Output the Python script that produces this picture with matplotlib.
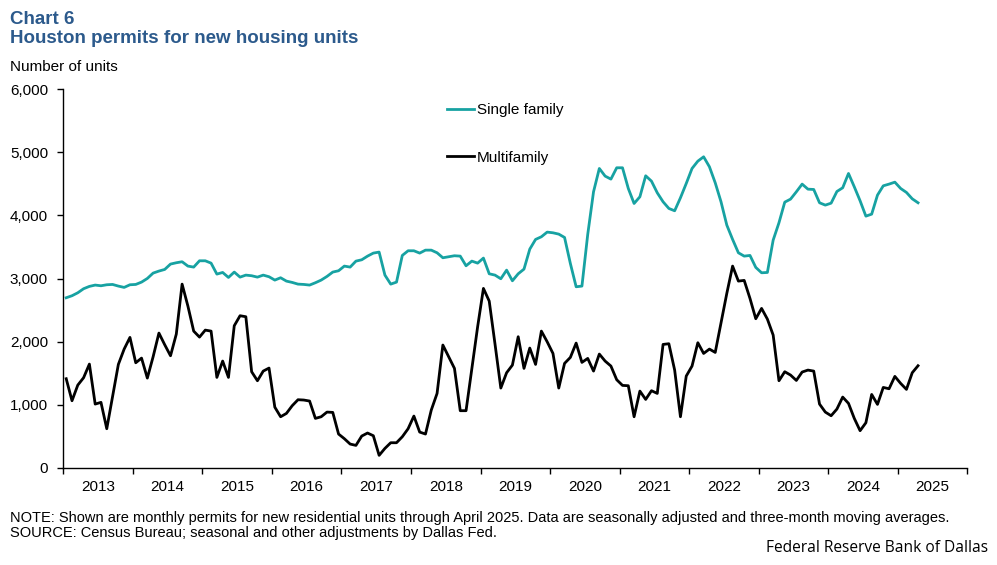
import numpy as np
import matplotlib
matplotlib.use("Agg")
import matplotlib.pyplot as plt
from matplotlib.ticker import FuncFormatter, FixedLocator

plt.rcParams['font.family'] = ['Liberation Sans', 'DejaVu Sans']

# monthly, Jan 2013 - Apr 2025 (three-month moving averages)
years = list(range(2013, 2026))

single_family = [
    2695, 2727, 2774, 2838, 2875, 2896, 2885, 2901, 2906, 2880, 2859, 2901,
    2906, 2943, 3001, 3086, 3118, 3144, 3229, 3250, 3266, 3197, 3181, 3281,
    3281, 3244, 3070, 3096, 3017, 3102, 3022, 3054, 3044, 3022, 3054, 3028,
    2975, 3012, 2959, 2938, 2911, 2906, 2896, 2933, 2975, 3033, 3102, 3123,
    3197, 3181, 3276, 3297, 3355, 3403, 3419, 3054, 2911, 2943, 3366, 3440,
    3440, 3403, 3450, 3450, 3408, 3329, 3345, 3361, 3355, 3202, 3276, 3244,
    3324, 3075, 3054, 2996, 3133, 2964, 3075, 3149, 3466, 3620, 3662, 3736,
    3725, 3704, 3651, 3239, 2869, 2880, 3700, 4375, 4745, 4624, 4576, 4756,
    4756, 4428, 4190, 4296, 4629, 4544, 4359, 4217, 4111, 4074, 4280, 4507,
    4745, 4861, 4930, 4772, 4518, 4217, 3847, 3620, 3408, 3355, 3366, 3176,
    3091, 3096, 3609, 3884, 4211, 4259, 4375, 4497, 4417, 4412, 4201, 4164,
    4195, 4380, 4439, 4666, 4454, 4233, 3989, 4021, 4322, 4470, 4497, 4528,
    4428, 4365, 4264, 4201,
]

multifamily = [
    1411, 1062, 1310, 1427, 1643, 1009, 1036, 618, 1125, 1638, 1881, 2066,
    1664, 1738, 1421, 1760, 2135, 1950, 1775, 2119, 2911, 2563, 2166, 2071,
    2182, 2166, 1432, 1691, 1432, 2251, 2410, 2394, 1522, 1379, 1532, 1580,
    960, 808, 861, 983, 1078, 1073, 1057, 782, 808, 882, 877, 534,
    460, 375, 354, 502, 550, 507, 196, 306, 396, 396, 491, 618,
    819, 565, 534, 914, 1178, 1945, 1760, 1575, 904, 904, 1575, 2235,
    2843, 2642, 1960, 1263, 1506, 1627, 2077, 1575, 1897, 1638, 2166, 1997,
    1812, 1263, 1654, 1749, 1976, 1670, 1733, 1532, 1802, 1691, 1612, 1395,
    1305, 1300, 808, 1215, 1083, 1221, 1178, 1955, 1966, 1548, 808, 1453,
    1612, 1982, 1812, 1881, 1828, 2299, 2764, 3197, 2959, 2970, 2684, 2362,
    2526, 2357, 2103, 1379, 1522, 1469, 1384, 1517, 1548, 1532, 1009, 882,
    824, 930, 1120, 1020, 782, 587, 713, 1162, 1004, 1273, 1252, 1448,
    1337, 1242, 1506, 1617,
]

teal = "#17a2a2"
navy = "#2c5a8c"

fig = plt.figure(figsize=(9.97, 5.65), dpi=100)
ax = fig.add_axes([0.0635, 0.1722, 0.9067, 0.6697])

pos = np.arange(len(single_family)) + 0.5
ax.plot(pos, single_family, color=teal, lw=2, label="Single family")
ax.plot(pos, multifamily, color="black", lw=2, label="Multifamily")

n_years = len(years)
ax.set_xlim(0, 12 * n_years)
ax.set_ylim(0, 6000)
ax.set_yticks(range(0, 6001, 1000))
ax.yaxis.set_major_formatter(FuncFormatter(lambda v, p: f"{int(v):,}"))

# year boundaries as ticks, year labels centred between them
ax.xaxis.set_major_locator(FixedLocator([12 * k for k in range(n_years + 1)]))
ax.xaxis.set_minor_locator(FixedLocator([12 * k + 6 for k in range(n_years)]))
ax.set_xticklabels([])
ax.set_xticklabels([str(y) for y in years], minor=True)
ax.tick_params(axis='x', which='major', direction='out', length=4, width=1)
ax.tick_params(axis='x', which='minor', length=0, pad=9, labelsize=11)
ax.tick_params(axis='y', direction='out', length=4, width=1, pad=7, labelsize=11)

for s in ['top', 'right']:
    ax.spines[s].set_visible(False)
for s in ['left', 'bottom']:
    ax.spines[s].set_linewidth(1)

ax.legend(loc='upper left', bbox_to_anchor=(0.409, 1.0), frameon=False,
          fontsize=11, handlelength=1.75, handletextpad=0.2, labelspacing=2.2)

fig.text(0.010, 1 - 24 / 565, "Chart 6", fontsize=13.5, fontweight='bold',
         color=navy, va='baseline')
fig.text(0.010, 1 - 43 / 565, "Houston permits for new housing units",
         fontsize=13.5, fontweight='bold', color=navy, va='baseline')
fig.text(0.010, 1 - 71 / 565, "Number of units", fontsize=11, va='baseline')

fig.text(0.010, 1 - 522 / 565,
         "NOTE: Shown are monthly permits for new residential units through April 2025. "
         "Data are seasonally adjusted and three-month moving averages.",
         fontsize=10.5, va='baseline')
fig.text(0.010, 1 - 537 / 565,
         "SOURCE: Census Bureau; seasonal and other adjustments by Dallas Fed.",
         fontsize=10.5, va='baseline')
fig.text(0.9907, 1 - 552 / 565, "Federal Reserve Bank of Dallas",
         fontsize=11.2, ha='right', va='baseline', family=['Open Sans', 'DejaVu Sans'])

fig.savefig("out.png", dpi=100)
